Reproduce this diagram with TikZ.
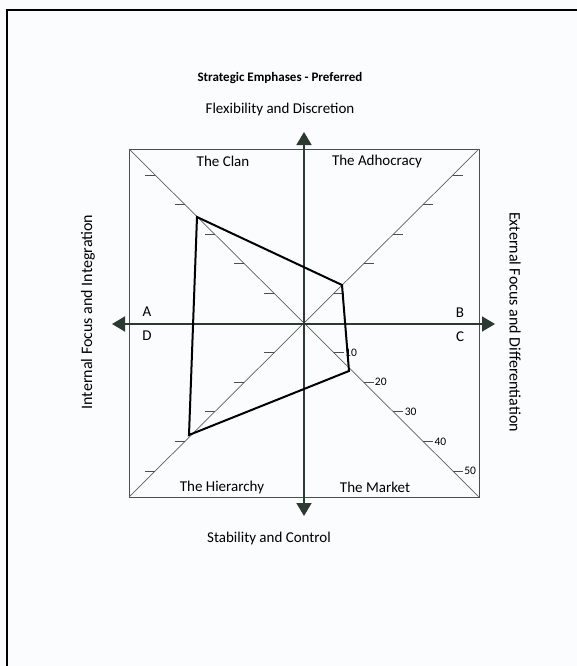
\documentclass[tikz,border=0pt]{standalone}
\usepackage{fontspec}
\setmainfont{Carlito}
\usetikzlibrary{arrows.meta,calc}
\definecolor{axiscol}{HTML}{2D3A32}
\definecolor{framecol}{HTML}{4A4F4C}
\definecolor{diagcol}{HTML}{5E615E}
\definecolor{bgcol}{HTML}{FBFCFD}
\begin{document}
\begin{tikzpicture}[x=1pt,y=-1pt,
  border/.style={line width=2pt,black},
  frame/.style={line width=0.9pt,framecol},
  diag/.style={line width=0.7pt,diagcol},
  tickmark/.style={line width=0.9pt,framecol},
  axis/.style={line width=1.6pt,axiscol,{Triangle[width=15pt,length=13pt]}-{Triangle[width=15pt,length=13pt]}},
  poly/.style={line width=2pt,black,line join=miter},
  txt/.style={font=\fontsize{15}{18}\selectfont,text=black,inner sep=0pt},
  sidetxt/.style={font=\fontsize{16}{19}\selectfont,text=black,inner sep=0pt},
  titletxt/.style={font=\fontsize{13}{16}\selectfont\bfseries,text=black,inner sep=0pt},
  ticklabel/.style={font=\fontsize{11.5}{13}\selectfont,text=black,inner sep=1pt}]
\useasboundingbox (0,0) rectangle (577,666);
\fill[bgcol] (0,0) rectangle (577,666);
% outer border
\coordinate (B1) at (7,666);
\coordinate (B2) at (7,10);
\coordinate (B3) at (577,10);
\draw[border] (B1) -- (B2) -- (B3);
% square
\coordinate (TL) at (129,149);
\coordinate (TR) at (479,149);
\coordinate (BL) at (129,497);
\coordinate (BR) at (479,497);
\coordinate (O) at (304,323);
\draw[frame] (TL) rectangle (BR);
\draw[diag] (TL) -- (BR);
\draw[diag] (TR) -- (BL);
% ticks
\foreach \k in {1,...,5} {
  \pgfmathsetmacro\t{29.6*\k/174}
  \pgfmathtruncatemacro\lab{10*\k}
  \draw[tickmark] ($(O)!\t!(TL)$) -- ++(-10,0);
  \draw[tickmark] ($(O)!\t!(TR)$) -- ++(10,0);
  \draw[tickmark] ($(O)!\t!(BL)$) -- ++(-10,0);
  \draw[tickmark] ($(O)!\t!(BR)$) -- ++(10,0) node[right,ticklabel] {\lab};
}
% axes
\coordinate (N) at (304,132);
\coordinate (S) at (304,516);
\coordinate (W) at (112,324);
\coordinate (E) at (495,324);
\draw[axis] (S) -- (N);
\draw[axis] (W) -- (E);
% profile
\coordinate (P1) at (197,217);
\coordinate (P2) at (342,285);
\coordinate (P3) at (349,371);
\coordinate (P4) at (189,435);
\draw[poly] (P1) -- (P2) -- (P3) -- (P4) -- cycle;
% texts
\node[titletxt] (title) at (280,78) {Strategic Emphases - Preferred};
\node[txt] (flex) at (280,110) {Flexibility and Discretion};
\node[txt] (stab) at (269,538) {Stability and Control};
\node[txt] (clan) at (223,161) {The Clan};
\node[txt] (adhoc) at (377,162) {The Adhocracy};
\node[txt] (hier) at (222,487) {The Hierarchy};
\node[txt] (market) at (375,487) {The Market};
\node[txt] (la) at (147,312) {A};
\node[txt] (ld) at (147,336) {D};
\node[txt] (lb) at (460,313) {B};
\node[txt] (lc) at (460,337) {C};
\node[sidetxt,rotate=90] (internal) at (88,312) {Internal Focus and Integration};
\node[sidetxt,rotate=-90] (external) at (515,322) {External Focus and Differentiation};
\end{tikzpicture}
\end{document}
